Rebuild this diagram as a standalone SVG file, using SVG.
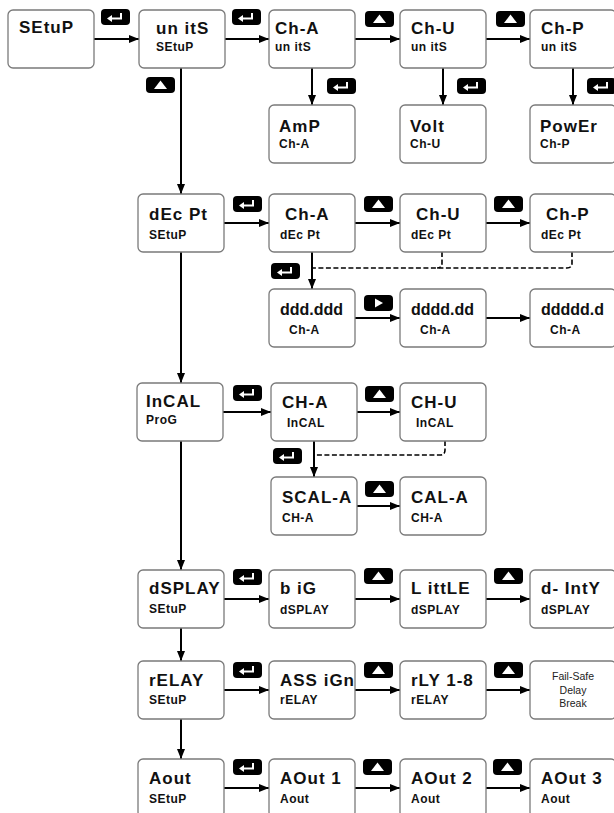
<svg xmlns="http://www.w3.org/2000/svg" xmlns:xlink="http://www.w3.org/1999/xlink" width="614" height="813" viewBox="0 0 614 813">
<style>
.box{fill:#fff;stroke:#7a7a7a;stroke-width:1.3}
.t1{font-family:"Liberation Sans",Arial,sans-serif;font-weight:bold;font-size:17px;letter-spacing:1px;fill:#111}
.t2{font-family:"Liberation Sans",Arial,sans-serif;font-weight:bold;font-size:12px;letter-spacing:0.5px;fill:#111}
.td{font-family:"Liberation Sans",Arial,sans-serif;font-weight:bold;font-size:16px;fill:#111}
.t3{font-family:"Liberation Sans",Arial,sans-serif;font-size:10.5px;fill:#222;text-anchor:middle}
.ln{fill:none;stroke:#000;stroke-width:2}
.dash{fill:none;stroke:#000;stroke-width:1.6;stroke-dasharray:5 2.5}
.key{fill:#000}
.kg{fill:none;stroke:#fff;stroke-width:2}
</style>
<defs>
<marker id="ah" markerUnits="userSpaceOnUse" markerWidth="10" markerHeight="8" refX="10" refY="4" orient="auto">
<path d="M0,0 L10,4 L0,8 z" fill="#000"/>
</marker>
<g id="kEnter"><rect class="key" width="29" height="16" rx="4"/><path class="kg" d="M20,4 V9.5 H10"/><path d="M6,9.5 L11,6 L11,13 z" fill="#fff"/></g>
<g id="kUp"><rect class="key" width="29" height="16" rx="4"/><path d="M14.5,3.5 L21,12 L8,12 z" fill="#fff"/></g>
<g id="kRight"><rect class="key" width="29" height="16" rx="4"/><path d="M11,3.5 L19,8 L11,12.5 z" fill="#fff"/></g>
</defs>

<g id="connectors">
<path class="ln" marker-end="url(#ah)" d="M94,39 H139"/>
<path class="ln" marker-end="url(#ah)" d="M225,39 H269"/>
<path class="ln" marker-end="url(#ah)" d="M355,39 H400"/>
<path class="ln" marker-end="url(#ah)" d="M486,39 H530"/>
<path class="ln" marker-end="url(#ah)" d="M312,68 V105"/>
<path class="ln" marker-end="url(#ah)" d="M443,68 V105"/>
<path class="ln" marker-end="url(#ah)" d="M573,68 V105"/>
<path class="ln" marker-end="url(#ah)" d="M181,68 V194"/>
<path class="ln" marker-end="url(#ah)" d="M224,223 H269"/>
<path class="ln" marker-end="url(#ah)" d="M355,223 H400"/>
<path class="ln" marker-end="url(#ah)" d="M486,223 H530"/>
<path class="ln" marker-end="url(#ah)" d="M312,252 V289"/>
<path class="dash" d="M572,252 V263 Q572,268 567,268 H313"/>
<path class="dash" d="M442,252 V263 Q442,268 437,268"/>
<path class="ln" marker-end="url(#ah)" d="M355,318 H400"/>
<path class="ln" marker-end="url(#ah)" d="M486,318 H530"/>
<path class="ln" marker-end="url(#ah)" d="M181,252 V383"/>
<path class="ln" marker-end="url(#ah)" d="M223,412 H271"/>
<path class="ln" marker-end="url(#ah)" d="M357,412 H400"/>
<path class="ln" marker-end="url(#ah)" d="M314,441 V477"/>
<path class="dash" d="M445,441 V450 Q445,455 440,455 H315"/>
<path class="ln" marker-end="url(#ah)" d="M357,506 H400"/>
<path class="ln" marker-end="url(#ah)" d="M181,441 V570"/>
<path class="ln" marker-end="url(#ah)" d="M224,599 H269"/>
<path class="ln" marker-end="url(#ah)" d="M355,599 H400"/>
<path class="ln" marker-end="url(#ah)" d="M486,599 H530"/>
<path class="ln" marker-end="url(#ah)" d="M181,628 V661"/>
<path class="ln" marker-end="url(#ah)" d="M224,690 H269"/>
<path class="ln" marker-end="url(#ah)" d="M355,690 H400"/>
<path class="ln" marker-end="url(#ah)" d="M486,690 H530"/>
<path class="ln" marker-end="url(#ah)" d="M181,719 V759"/>
<path class="ln" marker-end="url(#ah)" d="M224,788 H269"/>
<path class="ln" marker-end="url(#ah)" d="M355,788 H400"/>
<path class="ln" marker-end="url(#ah)" d="M486,788 H530"/>
</g>

<g id="keys">
<use xlink:href="#kEnter" x="101" y="9"/>
<use xlink:href="#kEnter" x="232" y="9"/>
<use xlink:href="#kUp" x="365" y="11"/>
<use xlink:href="#kUp" x="496" y="11"/>
<use xlink:href="#kUp" x="146" y="77"/>
<use xlink:href="#kEnter" x="327" y="78"/>
<use xlink:href="#kEnter" x="457" y="78"/>
<use xlink:href="#kEnter" x="587" y="78"/>
<use xlink:href="#kEnter" x="233" y="196"/>
<use xlink:href="#kUp" x="364" y="196"/>
<use xlink:href="#kUp" x="494" y="196"/>
<use xlink:href="#kEnter" x="271" y="263"/>
<use xlink:href="#kRight" x="364" y="295"/>
<use xlink:href="#kEnter" x="233" y="385"/>
<use xlink:href="#kUp" x="365" y="386"/>
<use xlink:href="#kEnter" x="273" y="448"/>
<use xlink:href="#kUp" x="365" y="481"/>
<use xlink:href="#kEnter" x="233" y="569"/>
<use xlink:href="#kUp" x="364" y="568"/>
<use xlink:href="#kUp" x="494" y="568"/>
<use xlink:href="#kEnter" x="233" y="662"/>
<use xlink:href="#kUp" x="364" y="662"/>
<use xlink:href="#kUp" x="494" y="662"/>
<use xlink:href="#kEnter" x="233" y="759"/>
<use xlink:href="#kUp" x="363" y="759"/>
<use xlink:href="#kUp" x="493" y="759"/>
</g>

<g id="n-setup"><rect class="box" x="8" y="10" width="86" height="58" rx="5"/><text class="t1" x="19" y="33">SEtuP</text></g>
<g id="n-units"><rect class="box" x="139" y="10" width="86" height="58" rx="5"/><text class="t1" x="156" y="34">un itS</text><text class="t2" x="156" y="51">SEtuP</text></g>
<g id="n-cha-units"><rect class="box" x="269" y="10" width="86" height="58" rx="5"/><text class="t1" x="275" y="34">Ch-A</text><text class="t2" x="275" y="51">un itS</text></g>
<g id="n-chu-units"><rect class="box" x="400" y="10" width="86" height="58" rx="5"/><text class="t1" x="411" y="34">Ch-U</text><text class="t2" x="411" y="51">un itS</text></g>
<g id="n-chp-units"><rect class="box" x="530" y="10" width="86" height="58" rx="5"/><text class="t1" x="541" y="34">Ch-P</text><text class="t2" x="541" y="51">un itS</text></g>

<g id="n-amp"><rect class="box" x="269" y="105" width="86" height="58" rx="5"/><text class="t1" x="279" y="132">AmP</text><text class="t2" x="279" y="148">Ch-A</text></g>
<g id="n-volt"><rect class="box" x="400" y="105" width="86" height="58" rx="5"/><text class="t1" x="410" y="132">Volt</text><text class="t2" x="410" y="148">Ch-U</text></g>
<g id="n-power"><rect class="box" x="530" y="105" width="86" height="58" rx="5"/><text class="t1" x="540" y="132">PowEr</text><text class="t2" x="540" y="148">Ch-P</text></g>

<g id="n-decpt"><rect class="box" x="138" y="194" width="86" height="58" rx="5"/><text class="t1" x="149" y="220">dEc  Pt</text><text class="t2" x="149" y="239">SEtuP</text></g>
<g id="n-cha-dec"><rect class="box" x="269" y="194" width="86" height="58" rx="5"/><text class="t1" x="285" y="220">Ch-A</text><text class="t2" x="280" y="239">dEc  Pt</text></g>
<g id="n-chu-dec"><rect class="box" x="400" y="194" width="86" height="58" rx="5"/><text class="t1" x="416" y="220">Ch-U</text><text class="t2" x="411" y="239">dEc  Pt</text></g>
<g id="n-chp-dec"><rect class="box" x="530" y="194" width="86" height="58" rx="5"/><text class="t1" x="546" y="220">Ch-P</text><text class="t2" x="541" y="239">dEc  Pt</text></g>

<g id="n-d3"><rect class="box" x="269" y="289" width="86" height="58" rx="5"/><text class="td" x="280" y="315">ddd.ddd</text><text class="t2" x="289" y="334">Ch-A</text></g>
<g id="n-d2"><rect class="box" x="400" y="289" width="86" height="58" rx="5"/><text class="td" x="411" y="315">dddd.dd</text><text class="t2" x="420" y="334">Ch-A</text></g>
<g id="n-d1"><rect class="box" x="530" y="289" width="86" height="58" rx="5"/><text class="td" x="541" y="315">ddddd.d</text><text class="t2" x="550" y="334">Ch-A</text></g>

<g id="n-incal"><rect class="box" x="137" y="383" width="86" height="58" rx="5"/><text class="t1" x="146" y="407">InCAL</text><text class="t2" x="146" y="424">ProG</text></g>
<g id="n-cha-incal"><rect class="box" x="271" y="383" width="86" height="58" rx="5"/><text class="t1" x="282" y="408">CH-A</text><text class="t2" x="287" y="427">InCAL</text></g>
<g id="n-chu-incal"><rect class="box" x="400" y="383" width="86" height="58" rx="5"/><text class="t1" x="411" y="408">CH-U</text><text class="t2" x="416" y="427">InCAL</text></g>

<g id="n-scal"><rect class="box" x="271" y="477" width="86" height="58" rx="5"/><text class="t1" x="282" y="503">SCAL-A</text><text class="t2" x="282" y="522">CH-A</text></g>
<g id="n-cal"><rect class="box" x="400" y="477" width="86" height="58" rx="5"/><text class="t1" x="411" y="503">CAL-A</text><text class="t2" x="411" y="522">CH-A</text></g>

<g id="n-dsplay"><rect class="box" x="138" y="570" width="86" height="58" rx="5"/><text class="t1" x="149" y="594">dSPLAY</text><text class="t2" x="149" y="613">SEtuP</text></g>
<g id="n-big"><rect class="box" x="269" y="570" width="86" height="58" rx="5"/><text class="t1" x="280" y="594">b iG</text><text class="t2" x="280" y="614">dSPLAY</text></g>
<g id="n-little"><rect class="box" x="400" y="570" width="86" height="58" rx="5"/><text class="t1" x="411" y="594">L ittLE</text><text class="t2" x="411" y="614">dSPLAY</text></g>
<g id="n-dinty"><rect class="box" x="530" y="570" width="86" height="58" rx="5"/><text class="t1" x="541" y="594">d- IntY</text><text class="t2" x="541" y="614">dSPLAY</text></g>

<g id="n-relay"><rect class="box" x="138" y="661" width="86" height="58" rx="5"/><text class="t1" x="149" y="686">rELAY</text><text class="t2" x="149" y="704">SEtuP</text></g>
<g id="n-assign"><rect class="box" x="269" y="661" width="86" height="58" rx="5"/><text class="t1" x="280" y="686">ASS iGn</text><text class="t2" x="280" y="704">rELAY</text></g>
<g id="n-rly"><rect class="box" x="400" y="661" width="86" height="58" rx="5"/><text class="t1" x="411" y="686">rLY  1-8</text><text class="t2" x="411" y="704">rELAY</text></g>
<g id="n-failsafe"><rect class="box" x="530" y="661" width="86" height="58" rx="5"/><text class="t3" x="573" y="680">Fail-Safe</text><text class="t3" x="573" y="694">Delay</text><text class="t3" x="573" y="707">Break</text></g>

<g id="n-aout"><rect class="box" x="138" y="759" width="86" height="58" rx="5"/><text class="t1" x="149" y="784">Aout</text><text class="t2" x="149" y="803">SEtuP</text></g>
<g id="n-aout1"><rect class="box" x="269" y="759" width="86" height="58" rx="5"/><text class="t1" x="280" y="784">AOut   1</text><text class="t2" x="280" y="803">Aout</text></g>
<g id="n-aout2"><rect class="box" x="400" y="759" width="86" height="58" rx="5"/><text class="t1" x="411" y="784">AOut  2</text><text class="t2" x="411" y="803">Aout</text></g>
<g id="n-aout3"><rect class="box" x="530" y="759" width="86" height="58" rx="5"/><text class="t1" x="541" y="784">AOut  3</text><text class="t2" x="541" y="803">Aout</text></g>
</svg>
